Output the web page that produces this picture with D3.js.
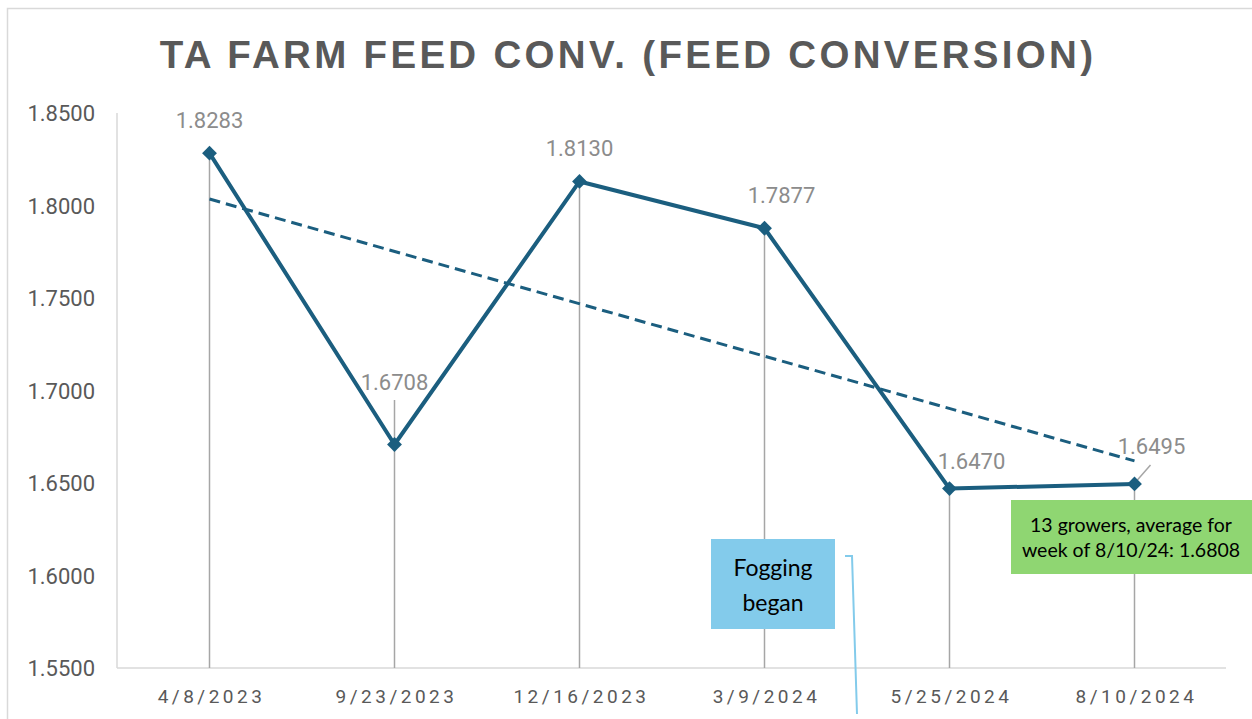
<!DOCTYPE html>
<html>
<head>
<meta charset="utf-8">
<script src="https://cdn.jsdelivr.net/npm/d3@7"></script>
<style>
  body { margin: 0; background: #fff; }
  svg { display: block; }
</style>
</head>
<body>
<div id="chart"></div>
<script>
var dates = ['4/8/2023', '9/23/2023', '12/16/2023', '3/9/2024', '5/25/2024', '8/10/2024'];
var feedConv = [1.8283, 1.6708, 1.8130, 1.7877, 1.6470, 1.6495];
var yTicks = [1.55, 1.60, 1.65, 1.70, 1.75, 1.80, 1.85];

var width = 1252;
var height = 719;
var lineColor = '#1b5e7f';

var svg = d3.select('#chart')
  .append('svg')
  .attr('width', width)
  .attr('height', height);

// outer chart border
svg.append('rect')
  .attr('x', 7.5).attr('y', 8.5)
  .attr('width', 1260).attr('height', 720)
  .attr('fill', 'none')
  .attr('stroke', '#d9d9d9')
  .attr('stroke-width', 1.5);

svg.append('text')
  .attr('x', 628)
  .attr('y', 68)
  .attr('text-anchor', 'middle')
  .attr('font-family', 'Liberation Sans, Arial, sans-serif')
  .attr('font-weight', 'bold')
  .attr('font-size', 38.5)
  .attr('letter-spacing', 3.3)
  .attr('fill', '#595959')
  .text('TA FARM FEED CONV. (FEED CONVERSION)');

var x = d3.scaleBand()
  .domain(dates)
  .range([117, 1227]);

var y = d3.scaleLinear()
  .domain([1.55, 1.85])
  .range([668, 113]);

// axes lines
svg.append('line')
  .attr('x1', 117).attr('x2', 117)
  .attr('y1', y(1.85)).attr('y2', y(1.55))
  .attr('stroke', '#d9d9d9').attr('stroke-width', 1.5);
svg.append('line')
  .attr('x1', 117).attr('x2', 1226)
  .attr('y1', y(1.55)).attr('y2', y(1.55))
  .attr('stroke', '#d9d9d9').attr('stroke-width', 1.5);

svg.selectAll('.ytick')
  .data(yTicks)
  .enter()
  .append('text')
  .attr('class', 'ytick')
  .attr('x', 95)
  .attr('y', function(d) { return y(d) + 8; })
  .attr('text-anchor', 'end')
  .attr('font-family', 'Roboto, sans-serif')
  .attr('font-size', 22)
  .attr('fill', '#595959')
  .text(function(d) { return d.toFixed(4); });

svg.selectAll('.xtick')
  .data(dates)
  .enter()
  .append('text')
  .attr('class', 'xtick')
  .attr('x', function(d) { return x(d) + x.bandwidth() / 2 + 2; })
  .attr('y', 703)
  .attr('text-anchor', 'middle')
  .attr('font-family', 'Roboto, sans-serif')
  .attr('font-size', 19)
  .attr('letter-spacing', 3.5)
  .attr('fill', '#595959')
  .text(function(d) { return d; });

var cx = function(i) { return x(dates[i]) + x.bandwidth() / 2; };

// drop lines
svg.selectAll('.drop')
  .data(feedConv)
  .enter()
  .append('line')
  .attr('class', 'drop')
  .attr('x1', function(d, i) { return cx(i); })
  .attr('x2', function(d, i) { return cx(i); })
  .attr('y1', function(d) { return y(d); })
  .attr('y2', y(1.55))
  .attr('stroke', '#a6a6a6')
  .attr('stroke-width', 1.5);

// leader lines from labels
svg.append('line')
  .attr('x1', cx(1)).attr('x2', cx(1))
  .attr('y1', 400).attr('y2', y(feedConv[1]))
  .attr('stroke', '#a6a6a6').attr('stroke-width', 1.5);
svg.append('line')
  .attr('x1', cx(5) + 16).attr('x2', cx(5) + 2)
  .attr('y1', y(feedConv[5]) - 19).attr('y2', y(feedConv[5]) - 3)
  .attr('stroke', '#a6a6a6').attr('stroke-width', 1.5);

// linear trendline
var n = feedConv.length;
var mx = d3.mean(feedConv, function(d, i) { return i; });
var my = d3.mean(feedConv);
var slope = d3.sum(feedConv, function(d, i) { return (i - mx) * (d - my); }) /
  d3.sum(feedConv, function(d, i) { return (i - mx) * (i - mx); });
var trend = function(i) { return my + slope * (i - mx); };

svg.append('line')
  .attr('x1', cx(0)).attr('y1', y(trend(0)))
  .attr('x2', cx(n - 1)).attr('y2', y(trend(n - 1)))
  .attr('stroke', lineColor)
  .attr('stroke-width', 3)
  .attr('stroke-dasharray', '11,6');

var line = d3.line()
  .x(function(d, i) { return cx(i); })
  .y(function(d) { return y(d); });

svg.append('path')
  .datum(feedConv)
  .attr('d', line)
  .attr('fill', 'none')
  .attr('stroke', lineColor)
  .attr('stroke-width', 4)
  .attr('stroke-linejoin', 'round');

svg.selectAll('.marker')
  .data(feedConv)
  .enter()
  .append('path')
  .attr('class', 'marker')
  .attr('d', d3.symbol().type(d3.symbolDiamond2).size(140))
  .attr('transform', function(d, i) { return 'translate(' + cx(i) + ',' + y(d) + ')'; })
  .attr('fill', lineColor);

// data labels
var labelOffsets = [[0, -25], [0, -55], [0, -25], [17, -25], [22, -20], [17, -30]];
svg.selectAll('.dlabel')
  .data(feedConv)
  .enter()
  .append('text')
  .attr('class', 'dlabel')
  .attr('x', function(d, i) { return cx(i) + labelOffsets[i][0]; })
  .attr('y', function(d, i) { return y(d) + labelOffsets[i][1]; })
  .attr('text-anchor', 'middle')
  .attr('font-family', 'Roboto, sans-serif')
  .attr('font-size', 22)
  .attr('fill', '#8c8c8c')
  .text(function(d) { return d.toFixed(4); });

// fogging callout
svg.append('polyline')
  .attr('points', '845,556 852,556 857,714')
  .attr('fill', 'none')
  .attr('stroke', '#83cbeb')
  .attr('stroke-width', 2);
svg.append('rect')
  .attr('x', 711).attr('y', 539)
  .attr('width', 124).attr('height', 90)
  .attr('fill', '#83cbeb');
svg.append('text')
  .attr('x', 773).attr('y', 576)
  .attr('text-anchor', 'middle')
  .attr('font-family', 'Lato, sans-serif')
  .attr('font-size', 23)
  .attr('fill', '#000')
  .text('Fogging');
svg.append('text')
  .attr('x', 773).attr('y', 611)
  .attr('text-anchor', 'middle')
  .attr('font-family', 'Lato, sans-serif')
  .attr('font-size', 23)
  .attr('fill', '#000')
  .text('began');

// growers note
svg.append('rect')
  .attr('x', 1011).attr('y', 500)
  .attr('width', 241).attr('height', 74)
  .attr('fill', '#8fd672');
svg.append('text')
  .attr('x', 1131).attr('y', 532)
  .attr('text-anchor', 'middle')
  .attr('font-family', 'Lato, sans-serif')
  .attr('font-size', 19.5)
  .attr('fill', '#000')
  .text('13 growers, average for');
svg.append('text')
  .attr('x', 1131).attr('y', 557)
  .attr('text-anchor', 'middle')
  .attr('font-family', 'Lato, sans-serif')
  .attr('font-size', 19.5)
  .attr('fill', '#000')
  .text('week of 8/10/24: 1.6808');
</script>
</body>
</html>
